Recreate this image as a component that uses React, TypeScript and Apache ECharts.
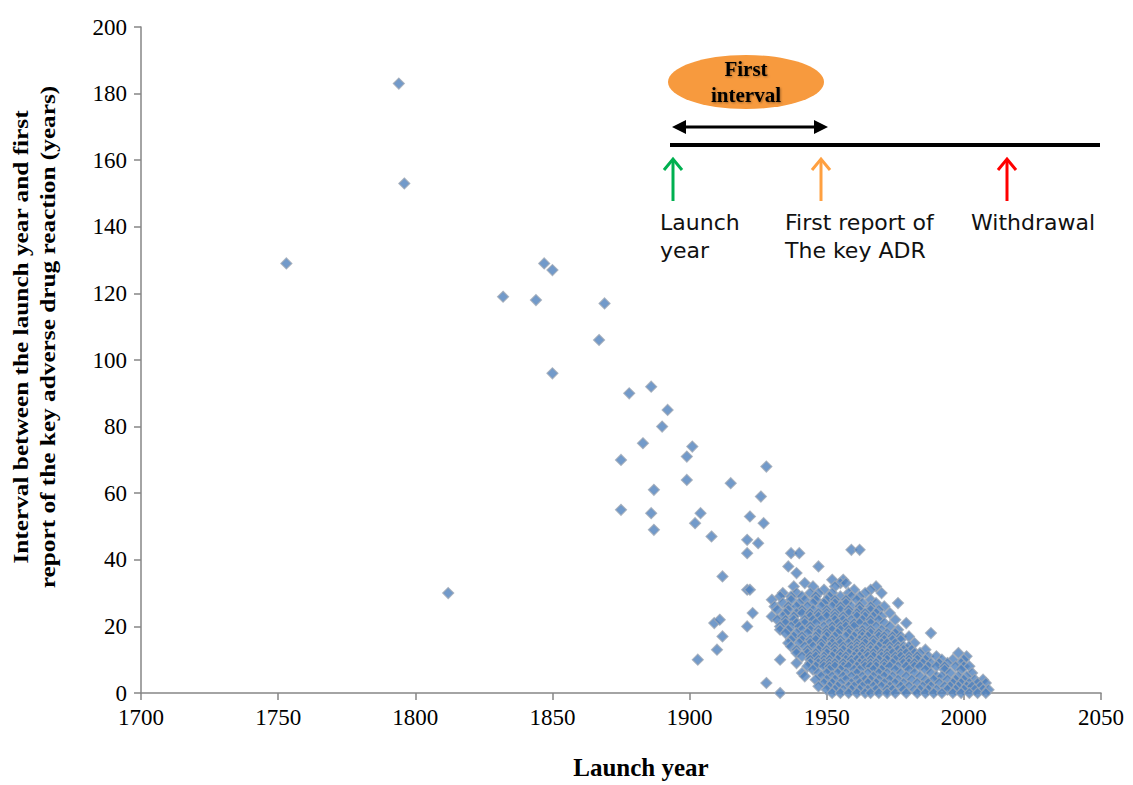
import React, { useEffect, useRef } from "react";
import * as echarts from "echarts";

// Early drugs (launch year, interval in years)
const earlyDrugs: [number, number][] = [
  [1753, 129], [1794, 183], [1796, 153], [1812, 30], [1832, 119], [1844, 118],
  [1847, 129], [1850, 127], [1850, 96], [1867, 106], [1869, 117], [1878, 90],
  [1886, 92], [1892, 85], [1890, 80], [1883, 75], [1875, 70], [1887, 61],
  [1875, 55], [1886, 54], [1887, 49], [1901, 74], [1899, 71], [1899, 64],
  [1915, 63], [1928, 68], [1904, 54], [1902, 51], [1908, 47], [1922, 53],
  [1926, 59], [1927, 51], [1921, 46], [1925, 45], [1921, 42], [1912, 35],
  [1921, 31], [1922, 31], [1923, 24], [1921, 20], [1909, 21], [1911, 22],
  [1912, 17], [1910, 13], [1903, 10], [1928, 3], [1933, 0],
];

// Dense 20th-century cluster: interval value -> launch years
const clusterRows: [number, number[]][] = [
  [43, [1959, 1962]],
  [42, [1937, 1940]],
  [38, [1936, 1947]],
  [36, [1939]],
  [34, [1952, 1956]],
  [33, [1942, 1955, 1957]],
  [32, [1938, 1945, 1953, 1968]],
  [31, [1949, 1960, 1966]],
  [30, [1934, 1939, 1944, 1947, 1952, 1958, 1964, 1970]],
  [29, [1933, 1937, 1941, 1946, 1951, 1955, 1959, 1962]],
  [28, [1930, 1937, 1942, 1946, 1950, 1953, 1957, 1961, 1966]],
  [27, [1934, 1940, 1945, 1949, 1953, 1957, 1963, 1968, 1976]],
  [26, [1931, 1936, 1939, 1943, 1948, 1952, 1955, 1959, 1962, 1966, 1971]],
  [25, [1932, 1936, 1941, 1945, 1950, 1955, 1958, 1962, 1966, 1969]],
  [24, [1935, 1939, 1941, 1944, 1947, 1950, 1953, 1958, 1961, 1964, 1968, 1973]],
  [23, [1930, 1934, 1938, 1944, 1947, 1950, 1953, 1956, 1961, 1964, 1967, 1970]],
  [22, [1932, 1935, 1938, 1942, 1945, 1948, 1953, 1956, 1959, 1963, 1966, 1969, 1975]],
  [21, [1935, 1939, 1942, 1946, 1951, 1954, 1957, 1960, 1962, 1966, 1971, 1979]],
  [20, [1933, 1937, 1940, 1944, 1949, 1952, 1955, 1957, 1960, 1964, 1968, 1973]],
  [19, [1933, 1936, 1941, 1944, 1947, 1950, 1952, 1955, 1958, 1963, 1966, 1970, 1976]],
  [18, [1935, 1939, 1943, 1947, 1950, 1954, 1958, 1961, 1963, 1966, 1969, 1972, 1975, 1988]],
  [17, [1938, 1941, 1946, 1950, 1953, 1957, 1960, 1963, 1965, 1969, 1971, 1974, 1977, 1980]],
  [16, [1937, 1941, 1944, 1946, 1949, 1952, 1955, 1959, 1962, 1964, 1967, 1971, 1974, 1977]],
  [15, [1936, 1940, 1944, 1948, 1952, 1955, 1958, 1961, 1964, 1967, 1970, 1972, 1975, 1982]],
  [14, [1937, 1942, 1945, 1948, 1951, 1953, 1956, 1959, 1961, 1963, 1966, 1969, 1973, 1976, 1978, 1980]],
  [13, [1939, 1943, 1947, 1950, 1953, 1956, 1959, 1961, 1963, 1966, 1968, 1971, 1973, 1976, 1978, 1981, 1986]],
  [12, [1939, 1943, 1946, 1950, 1953, 1955, 1958, 1961, 1963, 1965, 1967, 1970, 1972, 1974, 1977, 1979, 1982, 1984, 1998]],
  [11, [1941, 1944, 1946, 1949, 1952, 1955, 1957, 1960, 1962, 1965, 1967, 1970, 1972, 1975, 1977, 1980, 1983, 1987, 1990, 2001]],
  [10, [1933, 1944, 1947, 1949, 1951, 1954, 1957, 1959, 1961, 1963, 1966, 1969, 1972, 1975, 1978, 1980, 1983, 1986, 1992, 1996, 2000]],
  [9, [1939, 1944, 1947, 1949, 1951, 1953, 1956, 1959, 1962, 1964, 1966, 1968, 1971, 1974, 1978, 1980, 1982, 1985, 1988, 1991, 1994, 1999]],
  [8, [1943, 1946, 1949, 1951, 1953, 1956, 1958, 1961, 1964, 1966, 1968, 1971, 1973, 1976, 1979, 1982, 1984, 1987, 1990, 1993, 1997, 2000, 2002]],
  [7, [1945, 1951, 1955, 1960, 1962, 1967, 1970, 1975, 1980, 1986, 1993, 1999]],
  [6, [1941, 1947, 1950, 1954, 1957, 1961, 1965, 1969, 1972, 1977, 1982, 1988, 1995, 2003]],
  [5, [1942, 1948, 1952, 1956, 1959, 1963, 1967, 1971, 1974, 1979, 1984, 1990, 1992, 1998, 2001]],
  [4, [1946, 1950, 1953, 1957, 1961, 1964, 1966, 1969, 1973, 1976, 1981, 1986, 1989, 1994, 1997, 2000, 2004, 2007]],
  [3, [1949, 1952, 1955, 1959, 1962, 1965, 1968, 1971, 1975, 1978, 1983, 1987, 1991, 1996, 1999, 2002, 2005, 2008]],
  [2, [1947, 1951, 1954, 1958, 1960, 1963, 1967, 1970, 1973, 1977, 1980, 1985, 1988, 1993, 1995, 1998, 2001, 2003, 2006]],
  [1, [1950, 1953, 1956, 1959, 1962, 1965, 1968, 1972, 1974, 1978, 1982, 1984, 1987, 1990, 1994, 1997, 2000, 2004, 2007, 2009]],
  [0, [1952, 1955, 1958, 1961, 1964, 1966, 1969, 1972, 1975, 1979, 1983, 1986, 1989, 1992, 1996, 1999, 2002, 2005, 2008]],
];

const xTicks = { min: 1700, max: 2050, interval: 50 };
const yTicks = { min: 0, max: 200, interval: 20 };

const serif = '"Liberation Serif", "Times New Roman", serif';
const handFont = '"DejaVu Sans", "Noto Sans", sans-serif';

function buildData(): [number, number][] {
  const pts: [number, number][] = [...earlyDrugs];
  clusterRows.forEach(([v, years]) => years.forEach((y) => pts.push([y, v])));
  return pts;
}

function upArrow(x: number, color: string) {
  return [
    { type: "line", shape: { x1: x, y1: 201, x2: x, y2: 160 }, style: { stroke: color, lineWidth: 3 } },
    { type: "polyline", shape: { points: [[x - 9, 170], [x, 159], [x + 9, 170]] }, style: { stroke: color, lineWidth: 3, fill: "none" } },
  ];
}

export default function App() {
  const ref = useRef<HTMLDivElement>(null);
  useEffect(() => {
    const chart = echarts.init(ref.current!, null, { renderer: "svg" });
    const option: any = {
      animation: false,
      backgroundColor: "#ffffff",
      grid: { left: 141, right: 32, top: 27, bottom: 88, containLabel: false },
      xAxis: {
        type: "value",
        min: xTicks.min,
        max: xTicks.max,
        interval: xTicks.interval,
        name: "Launch year",
        nameLocation: "middle",
        nameGap: 62,
        nameTextStyle: { fontFamily: serif, fontWeight: "bold", fontSize: 25, color: "#000", padding: [0, 0, 0, 40] },
        axisLine: { lineStyle: { color: "#868686", width: 1.5 } },
        axisTick: { show: true, length: 7, lineStyle: { color: "#868686", width: 1.5 } },
        axisLabel: { fontFamily: serif, fontSize: 23, color: "#000", margin: 13, formatter: (v: number) => String(v) },
        splitLine: { show: false },
      },
      yAxis: {
        type: "value",
        min: yTicks.min,
        max: yTicks.max,
        interval: yTicks.interval,
        axisLine: { show: true, lineStyle: { color: "#868686", width: 1.5 } },
        axisTick: { show: true, length: 7, lineStyle: { color: "#868686", width: 1.5 } },
        axisLabel: { fontFamily: serif, fontSize: 23, color: "#000", margin: 14 },
        splitLine: { show: false },
      },
      series: [
        {
          type: "scatter",
          data: buildData(),
          symbol: "diamond",
          symbolSize: 11,
          itemStyle: { color: "#4F81BD", borderColor: "#9EA7B5", borderWidth: 1.2 },
        },
      ],
      graphic: [
        {
          type: "text",
          x: 34,
          y: 337,
          rotation: Math.PI / 2,
          scaleX: 1.15,
          style: {
            text: "Interval between the launch year and first\nreport of the key adverse drug reaction (years)",
            font: `bold 22px ${serif}`,
            lineHeight: 27,
            align: "center",
            verticalAlign: "middle",
            fill: "#000",
          },
        },
        { type: "ellipse", shape: { cx: 746, cy: 82, rx: 78, ry: 27 }, style: { fill: "#F79A3E" } },
        {
          type: "text",
          x: 746,
          y: 82,
          style: {
            text: "First\ninterval",
            font: `bold 21px ${serif}`,
            lineHeight: 26,
            align: "center",
            verticalAlign: "middle",
            fill: "#000",
            textShadowColor: "rgba(0,0,0,0.35)",
            textShadowBlur: 2,
            textShadowOffsetX: 1,
            textShadowOffsetY: 1,
          },
        },
        { type: "line", shape: { x1: 682, y1: 127, x2: 818, y2: 127 }, style: { stroke: "#000", lineWidth: 3 } },
        { type: "polygon", shape: { points: [[672, 127], [686, 120], [686, 134]] }, style: { fill: "#000" } },
        { type: "polygon", shape: { points: [[828, 127], [814, 120], [814, 134]] }, style: { fill: "#000" } },
        { type: "line", shape: { x1: 670, y1: 145, x2: 1100, y2: 145 }, style: { stroke: "#000", lineWidth: 4 } },
        ...upArrow(673, "#00B050"),
        ...upArrow(821, "#FFA040"),
        ...upArrow(1007, "#FF0000"),
        {
          type: "text",
          x: 660,
          y: 236,
          style: { text: "Launch\nyear", font: `22px ${handFont}`, lineHeight: 28, align: "left", verticalAlign: "middle", fill: "#111" },
        },
        {
          type: "text",
          x: 785,
          y: 236,
          style: { text: "First report of\nThe key ADR", font: `22px ${handFont}`, lineHeight: 28, align: "left", verticalAlign: "middle", fill: "#111" },
        },
        {
          type: "text",
          x: 971,
          y: 222,
          style: { text: "Withdrawal", font: `22px ${handFont}`, align: "left", verticalAlign: "middle", fill: "#111" },
        },
      ],
    };
    chart.setOption(option);
    return () => chart.dispose();
  }, []);
  return <div ref={ref} style={{ position: "fixed", left: 0, top: 0, width: 1133, height: 785 }} />;
}
